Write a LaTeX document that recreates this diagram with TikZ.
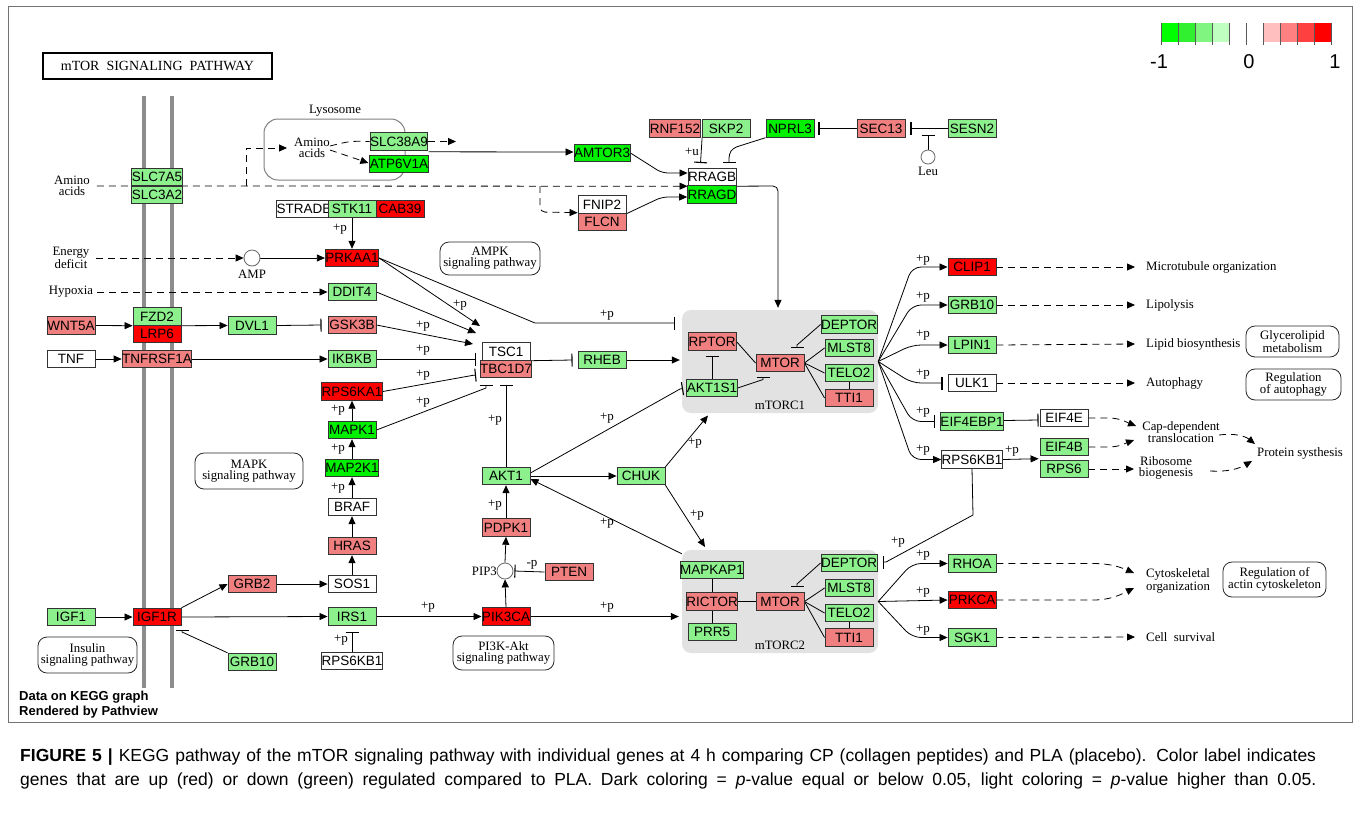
\documentclass[tikz,border=0pt]{standalone}
\usepackage{fontspec}
\setmainfont{Liberation Serif}
\setsansfont{Liberation Sans}
\usetikzlibrary{arrows.meta}
\definecolor{gL}{HTML}{8CF08C}
\definecolor{gD}{HTML}{00F000}
\definecolor{rL}{HTML}{F08080}
\definecolor{rD}{HTML}{FF0000}
\definecolor{cx}{HTML}{E2E2E2}
\pgfdeclarelayer{back}
\pgfdeclarelayer{links}
\pgfsetlayers{back,links,main}
\begin{document}
\begin{tikzpicture}[x=1pt,y=-1pt,
  gene/.style={draw=black!80,line width=0.9pt,minimum width=48pt,minimum height=17.5pt,inner sep=0pt,font=\sffamily\fontsize{13.5}{13.5}\selectfont},
  gl/.style={gene,fill=gL}, gd/.style={gene,fill=gD}, rl/.style={gene,fill=rL}, rd/.style={gene,fill=rD}, wh/.style={gene,fill=white},
  lbl/.style={font=\fontsize{12.8}{10.8}\selectfont,inner sep=0pt,align=center},
  pp/.style={font=\fontsize{13}{13}\selectfont,inner sep=0pt},
  pw/.style={draw=black!85,rounded corners=9pt,line width=0.8pt,align=center,font=\fontsize{12.8}{10.8}\selectfont,inner sep=0pt},
  ln/.style={line width=0.8pt},
  act/.style={ln,-{Triangle[length=8pt,width=7pt]}},
  inh/.style={ln,-{Bar[width=13pt,line width=1.1pt]}},
  dsh/.style={ln,dash pattern=on 7pt off 5pt},
  cplx/.style={fill=cx,rounded corners=9pt,inner sep=0pt},
  mol/.style={circle,draw=black!60,fill=white,line width=0.8pt,inner sep=0pt,minimum size=16pt},
  mem/.style={line width=4pt,draw=black!45},
  capt/.style={font=\sffamily\fontsize{17.5}{17.5}\selectfont,anchor=west,inner sep=0pt}]
\useasboundingbox (0,0) rectangle (1356,812);
\begin{pgfonlayer}{back}
\fill[white] (0,0) rectangle (1356,812);
\draw[mem] (144,96) -- (144,688);
\draw[mem] (172,96) -- (172,688);
\end{pgfonlayer}
% frame and title
\draw[black!55,line width=1pt] (8,6) rectangle (1352,722);
\node[draw,line width=1.3pt,minimum width=229pt,minimum height=26pt,inner sep=0pt,font=\fontsize{14}{14}\selectfont] (title) at (157.5,66) {mTOR\ \ SIGNALING\ \ PATHWAY};
% legend
\fill[fill={rgb,255:red,0;green,255;blue,0}] (1161,23) rectangle (1178,42);
\fill[fill={rgb,255:red,48;green,240;blue,48}] (1178,23) rectangle (1195,42);
\fill[fill={rgb,255:red,128;green,245;blue,128}] (1195,23) rectangle (1212,42);
\fill[fill={rgb,255:red,191;green,255;blue,191}] (1212,23) rectangle (1229,42);
\fill[fill={rgb,255:red,255;green,191;blue,191}] (1263,23) rectangle (1280,42);
\fill[fill={rgb,255:red,255;green,128;blue,128}] (1280,23) rectangle (1297,42);
\fill[fill={rgb,255:red,255;green,64;blue,64}] (1297,23) rectangle (1314,42);
\fill[fill={rgb,255:red,255;green,0;blue,0}] (1314,23) rectangle (1331,42);
\foreach \x in {1161,1178,1195,1212,1229,1246,1263,1280,1297,1314,1331} \draw[black!65,line width=0.9pt] (\x,23) -- (\x,45);
\node[font=\sffamily\fontsize{20}{20}\selectfont,inner sep=0pt] (lgm) at (1159,62) {-1};
\node[font=\sffamily\fontsize{20}{20}\selectfont,inner sep=0pt] (lg0) at (1249,62) {0};
\node[font=\sffamily\fontsize{20}{20}\selectfont,inner sep=0pt] (lg1) at (1335,62) {1};
% complexes
\begin{pgfonlayer}{back}
\node[cplx,minimum width=196pt,minimum height=103pt] (mtorc1) at (780,361.5) {};
\node[cplx,minimum width=196pt,minimum height=103pt] (mtorc2) at (780,601.5) {};
\end{pgfonlayer}
\node[lbl] (mtorc1lbl) at (780,405) {mTORC1};
\node[lbl] (mtorc2lbl) at (780,645) {mTORC2};
% lysosome
\node[draw=black!50,rounded corners=14pt,minimum width=141pt,minimum height=61pt,line width=1pt] (lyso) at (334.5,149.5) {};
\node[lbl] (lysolbl) at (335,111) {Lysosome};
\node[lbl] (aa2) at (312,148) {Amino\\acids};
% left text
\node[lbl] (aa1) at (72,186) {Amino\\acids};
\node[lbl] (energy) at (71,258) {Energy\\deficit};
\node[lbl] (hypoxia) at (71,292) {Hypoxia};
% genes
\node[gl] (slc7a5) at (157,177) {SLC7A5};
\node[gl] (slc3a2) at (157,195) {SLC3A2};
\node[wh] (stradb) at (304,209) {STRADB};
\node[gl] (stk11) at (352,209) {STK11};
\node[rd] (cab39) at (400,209) {CAB39};
\node[rd] (prkaa1) at (352,258) {PRKAA1};
\node[gl] (ddit4) at (352,292) {DDIT4};
\node[rl] (gsk3b) at (352,325) {GSK3B};
\node[gl] (ikbkb) at (352,359) {IKBKB};
\node[rd] (rps6ka1) at (352,391.5) {RPS6KA1};
\node[gd] (mapk1) at (352,430) {MAPK1};
\node[gd] (map2k1) at (352,468) {MAP2K1};
\node[wh] (braf) at (352,507) {BRAF};
\node[rl] (hras) at (352,546) {HRAS};
\node[wh] (sos1) at (352,584) {SOS1};
\node[gl] (irs1) at (352,616.5) {IRS1};
\node[wh] (rps6kb1b) at (352,661) {RPS6KB1};
\node[rl] (wnt5a) at (71,325.5) {WNT5A};
\node[gl] (fzd2) at (157,316.5) {FZD2};
\node[rd] (lrp6) at (157,334) {LRP6};
\node[gl] (dvl1) at (252,325.5) {DVL1};
\node[wh] (tnf) at (71,359) {TNF};
\node[rl] (tnfrsf1a) at (157,359) {TNFRSF1A};
\node[gl] (igf1) at (71,617) {IGF1};
\node[rd] (igf1r) at (157,617) {IGF1R};
\node[rl] (grb2) at (252,584) {GRB2};
\node[gl] (grb10b) at (252,662) {GRB10};
\node[gl] (slc38a9) at (399,141.5) {SLC38A9};
\node[gd] (atp6v1a) at (399,164) {ATP6V1A};
\node[gd] (amtor3) at (602,153) {AMTOR3};
\node[wh] (fnip2) at (602,204.5) {FNIP2};
\node[rl] (flcn) at (602,222) {FLCN};
\node[rl] (rnf152) at (675,128.5) {RNF152};
\node[gl] (skp2) at (726,128.5) {SKP2};
\node[gd] (nprl3) at (790,128.5) {NPRL3};
\node[rl] (sec13) at (881,128.5) {SEC13};
\node[gl] (sesn2) at (972,128.5) {SESN2};
\node[wh] (rragb) at (712,177) {RRAGB};
\node[gd] (rragd) at (712,194.5) {RRAGD};
\node[wh] (tsc1) at (506,351.5) {TSC1};
\node[rl] (tbc1d7) at (506,369) {TBC1D7};
\node[gl] (rheb) at (602,360) {RHEB};
\node[gl] (akt1) at (506,476) {AKT1};
\node[gl] (chuk) at (641,476) {CHUK};
\node[rl] (pdpk1) at (506,527.5) {PDPK1};
\node[rd] (pik3ca) at (506,616.5) {PIK3CA};
\node[rl] (pten) at (569,572) {PTEN};
% mTORC1
\node[rl] (rptor) at (712,341.5) {RPTOR};
\node[gl] (akt1s1) at (712,388) {AKT1S1};
\node[rl] (mtor1) at (780,363) {MTOR};
\node[gl] (deptor1) at (849,324.5) {DEPTOR};
\node[gl] (mlst81) at (849,348) {MLST8};
\node[gl] (telo21) at (849,373) {TELO2};
\node[rl] (tti11) at (849,398) {TTI1};
% mTORC2
\node[gl] (mapkap1) at (712,570) {MAPKAP1};
\node[rl] (rictor) at (712,601.5) {RICTOR};
\node[gl] (prr5) at (712,632) {PRR5};
\node[rl] (mtor2) at (780,601.5) {MTOR};
\node[gl] (deptor2) at (849,563) {DEPTOR};
\node[gl] (mlst82) at (849,588) {MLST8};
\node[gl] (telo22) at (849,613) {TELO2};
\node[rl] (tti12) at (849,637.5) {TTI1};
% outputs
\node[rd] (clip1) at (972,267) {CLIP1};
\node[gl] (grb10) at (972,305) {GRB10};
\node[gl] (lpin1) at (972,345) {LPIN1};
\node[wh] (ulk1) at (972,383) {ULK1};
\node[gl] (eif4ebp1) at (972,421.5) {EIF4EBP1};
\node[wh] (rps6kb1) at (972,459.5) {RPS6KB1};
\node[wh] (eif4e) at (1064,418) {EIF4E};
\node[gl] (eif4b) at (1064,447) {EIF4B};
\node[gl] (rps6) at (1064,469) {RPS6};
\node[gl] (rhoa) at (972,563.5) {RHOA};
\node[rd] (prkca) at (972,600) {PRKCA};
\node[gl] (sgk1) at (972,637.5) {SGK1};
% compounds
\node[mol] (amp) at (252,258) {};
\node[lbl] (amplbl) at (252,274) {AMP};
\node[mol,minimum size=14pt] (leu) at (928,157) {};
\node[lbl] (leulbl) at (928,171) {Leu};
\node[mol] (pip3) at (505,571) {};
\node[lbl,anchor=east] (pip3lbl) at (497,571) {PIP3};
% pathway boxes
\node[pw,minimum width=100pt,minimum height=33pt] (ampk) at (490,258.5) {AMPK\\signaling pathway};
\node[pw,minimum width=108pt,minimum height=36pt] (mapk) at (249,471) {MAPK\\signaling pathway};
\node[pw,minimum width=93pt,minimum height=31pt] (glyc) at (1292.5,341.5) {Glycerolipid\\metabolism};
\node[pw,minimum width=95pt,minimum height=31pt] (regaut) at (1293.5,384.5) {Regulation\\of autophagy};
\node[pw,minimum width=103pt,minimum height=35pt] (regact) at (1274.5,579.5) {Regulation of\\actin cytoskeleton};
\node[pw,minimum width=101pt,minimum height=34pt] (pi3k) at (503.5,653) {PI3K-Akt\\signaling pathway};
\node[pw,minimum width=99pt,minimum height=36pt] (insulin) at (87.5,655) {Insulin\\signaling pathway};
% right texts
\node[lbl,anchor=west] (t1) at (1146,267) {Microtubule organization};
\node[lbl,anchor=west] (t2) at (1146,305) {Lipolysis};
\node[lbl,anchor=west] (t3) at (1146,344) {Lipid biosynthesis};
\node[lbl,anchor=west] (t4) at (1146,383) {Autophagy};
\node[lbl] (t5) at (1181,432) {Cap-dependent\\translocation};
\node[lbl] (t6) at (1166,468) {Ribosome\\biogenesis};
\node[lbl] (t7) at (1300,453) {Protein systhesis};
\node[lbl] (t8) at (1178,581) {Cytoskeletal\\organization};
\node[lbl,anchor=west] (t9) at (1146,637) {Cell\ \ survival};
% +p labels
\node[pp] (p1) at (340,229) {+p};
\node[pp] (p2) at (338,410) {+p};
\node[pp] (p3) at (338,449) {+p};
\node[pp] (p4) at (338,488) {+p};
\node[pp] (p5) at (341,640) {+p};
\node[pp] (p6) at (460,305) {+p};
\node[pp] (p7) at (423,326) {+p};
\node[pp] (p8) at (423,350) {+p};
\node[pp] (p9) at (423,375) {+p};
\node[pp] (p10) at (423,402) {+p};
\node[pp] (p11) at (495,420) {+p};
\node[pp] (p12) at (607,315) {+p};
\node[pp] (p13) at (607,418) {+p};
\node[pp] (p14) at (695,443) {+p};
\node[pp] (p15) at (697,515) {+p};
\node[pp] (p16) at (607,523) {+p};
\node[pp] (p17) at (495,505) {+p};
\node[pp] (p18) at (428,607) {+p};
\node[pp] (p19) at (607,607) {+p};
\node[pp] (m1) at (532,565) {-p};
\node[pp] (p20) at (923,260) {+p};
\node[pp] (p21) at (923,297) {+p};
\node[pp] (p22) at (923,335) {+p};
\node[pp] (p23) at (923,374) {+p};
\node[pp] (p24) at (923,412) {+p};
\node[pp] (p25) at (923,450) {+p};
\node[pp] (p26) at (1012,451) {+p};
\node[pp] (p27) at (898,542) {+p};
\node[pp] (p28) at (923,555) {+p};
\node[pp] (p29) at (923,592) {+p};
\node[pp] (p30) at (923,630) {+p};
\node[pp] (u1) at (692,152) {+u};
% data note
\node[font=\sffamily\bfseries\fontsize{13}{15}\selectfont,anchor=north west,align=left,inner sep=0pt] (note) at (19,691) {Data on KEGG graph\\Rendered by Pathview};
% caption
\node[capt] (cap1) at (20,757) {\makebox[1296pt][s]{\textbf{FIGURE 5 |} KEGG pathway of the mTOR signaling pathway with individual genes at 4 h comparing CP (collagen peptides) and PLA (placebo). Color label indicates}};
\node[capt] (cap2) at (20,781) {\makebox[1296pt][s]{genes that are up (red) or down (green) regulated compared to PLA. Dark coloring = \textit{p}-value equal or below 0.05, light coloring = \textit{p}-value higher than 0.05.}};
% named free ends
\coordinate (j1) at (246,186);
\coordinate (j2) at (540,186);
\coordinate (s9out) at (456,141.5);
\coordinate (uB1) at (700.5,163);
\coordinate (uB2) at (729,163);
\coordinate (leuB) at (928,135);
\coordinate (tA) at (480,326);
\coordinate (tB) at (476,333);
\coordinate (tC) at (473,344);
\coordinate (tD) at (476,359);
\coordinate (tE) at (476,375);
\coordinate (tF) at (486,385);
\coordinate (tG) at (506,385);
\coordinate (m1B) at (675,323);
\coordinate (aB) at (683,388.5);
\coordinate (c1in) at (708,415.5);
\coordinate (c2in) at (705,547);
\coordinate (igfB) at (182,630);
\coordinate (d2B) at (883,562);
\coordinate (t5in1) at (1136,426);
\coordinate (t5in2) at (1134,440);
\coordinate (t6in) at (1134,469);
\coordinate (t5out) at (1219,435);
\coordinate (t6out) at (1210,471);
\coordinate (t7in1) at (1255,444);
\coordinate (t7in2) at (1252,461);
\coordinate (t8in1) at (1134,573);
\coordinate (t8in2) at (1134,588);
\begin{pgfonlayer}{links}
% amino acids
\draw[dsh,act] ([xshift=7pt]aa1.east) -- (rragb.south west);
\draw[dsh,act] (j1) -- (246,148) -- ([xshift=-7pt]aa2.west);
\draw[dsh,act,rounded corners=5pt] (j2) -- (540,212) -- ([yshift=1pt]fnip2.south west);
\draw[dsh] ([yshift=2pt]aa2.east) .. controls (350,141) .. (slc38a9.west);
\draw[dsh,act] ([yshift=-2pt]aa2.east) -- ([xshift=-1pt,yshift=1pt]atp6v1a.west);
\draw[dsh,act] (slc38a9.east) -- (s9out);
\draw[act] ([yshift=3pt]atp6v1a.north east) -- ([yshift=1pt]amtor3.west);
\draw[act,rounded corners=6pt] (amtor3.east) -- (662,173) -- ([yshift=4pt]rragb.west);
\draw[act,rounded corners=6pt] (fnip2.south east) -- (662,197) -- ([yshift=-2.5pt]rragd.west);
\draw[inh] ([xshift=1.5pt]rnf152.south east) -- (uB1);
\draw[inh,rounded corners=4pt] (nprl3.south west) -- (733,148) -- (729,154) -- (uB2);
\draw[inh] (sec13.west) -- ([xshift=4pt]nprl3.east);
\draw[inh] (sesn2.west) -- ([xshift=5pt]sec13.east);
\draw[inh] (leu.north) -- (leuB);
\draw[act,rounded corners=5pt] (rragb.south east) -- (778,186) -- ([xshift=-2pt,yshift=2pt]mtorc1.north);
% AMPK etc
\draw[act] (stk11.south) -- (prkaa1.north);
\draw[dsh,act] ([xshift=6pt]energy.east) -- (amp.west);
\draw[act] (amp.east) -- (prkaa1.west);
\draw[dsh,act] ([xshift=4pt]hypoxia.east) -- (ddit4.west);
\draw[act] (wnt5a.east) -- (fzd2.south west);
\draw[act] (fzd2.south east) -- (dvl1.west);
\draw[inh] (dvl1.east) -- ([xshift=-6pt]gsk3b.west);
\draw[act] (tnf.east) -- (tnfrsf1a.west);
\draw[act] (tnfrsf1a.east) -- (ikbkb.west);
\draw[act] (igf1.east) -- (igf1r.west);
\draw[act] (igf1r.east) -- (irs1.west);
\draw[act] (igf1r.north east) -- (grb2.west);
\draw[act] (grb2.east) -- (sos1.west);
\draw[inh] (grb10b.north west) -- (182,632) -- (igfB);
\draw[act] (sos1.north) -- (hras.south);
\draw[act] (hras.north) -- (braf.south);
\draw[act] (braf.north) -- (map2k1.south);
\draw[act] (map2k1.north) -- (mapk1.south);
\draw[act] (mapk1.north) -- (rps6ka1.south);
\draw[inh] (rps6kb1b.north) -- ([yshift=-6pt]irs1.south);
% to TSC
\draw[act] (prkaa1.east) -- (tA);
\draw[act] (ddit4.east) -- (tB);
\draw[act] (gsk3b.east) -- (tC);
\draw[inh] (ikbkb.east) -- (tD);
\draw[inh] (rps6ka1.east) -- (473,375.3) -- (tE);
\draw[inh] (mapk1.east) -- (486,388) -- (tF);
\draw[inh] (akt1.north) -- (tG);
\draw[inh] (prkaa1.east) -- (535,323) -- (m1B);
\draw[inh] (tsc1.south east) -- ([xshift=-5pt]rheb.west);
\draw[act] (rheb.east) -- ([xshift=-2pt,yshift=1.5pt]mtorc1.west);
\draw[inh] ([yshift=3pt]akt1.east) -- (680,389) -- (aB);
\draw[act] (akt1.east) -- (chuk.west);
\draw[act] (chuk.north east) -- (c1in);
\draw[act] (chuk.south east) -- (c2in);
\draw[act] ([yshift=-4pt]mtorc2.north west) -- ([yshift=-3pt]akt1.east);
\draw[act] (pdpk1.north) -- (akt1.south);
\draw[act] (pik3ca.north) -- (pip3.south);
\draw[act] (pip3.north) -- (pdpk1.south);
\draw[inh] (pten.west) -- ([xshift=1pt]pip3.east);
\draw[act] (irs1.east) -- (pik3ca.west);
\draw[act] (pik3ca.east) -- ([xshift=-3pt,yshift=-15pt]mtorc2.west);
% mTORC1 internal
\draw[ln] (rptor.east) -- (mtor1.west);
\draw[inh] (akt1s1.north) -- ([yshift=-5pt]rptor.south);
\draw[inh] (akt1s1.east) -- (763,379.5) -- (763,377);
\draw[inh] (deptor1.west) -- (797,345) -- (797,348);
\draw[ln] (mtor1.east) -- (mlst81.west);
\draw[ln] (mtor1.east) -- (telo21.west);
\draw[ln] (mtor1.east) -- (tti11.west);
\draw[ln] (telo21.south) -- (tti11.north);
% mTORC2 internal
\draw[ln] (mapkap1.south) -- (rictor.north);
\draw[ln] (rictor.south) -- (prr5.north);
\draw[ln] (rictor.east) -- (mtor2.west);
\draw[inh] (deptor2.west) -- (797,584) -- (797,587);
\draw[ln] (mtor2.east) -- (mlst82.west);
\draw[ln] (mtor2.east) -- (telo22.west);
\draw[ln] (mtor2.east) -- (tti12.west);
\draw[ln] (telo22.south) -- (tti12.north);
% mTORC1 fan
\draw[act,rounded corners=9pt] (mtorc1.east) -- (912,267) -- (clip1.west);
\draw[act,rounded corners=9pt] (mtorc1.east) -- (912,305) -- (grb10.west);
\draw[act,rounded corners=9pt] (mtorc1.east) -- (912,345) -- (lpin1.west);
\draw[inh,rounded corners=9pt] (mtorc1.east) -- (912,383) -- ([xshift=-5pt]ulk1.west);
\draw[inh,rounded corners=9pt] (mtorc1.east) -- (912,421.5) -- ([xshift=-5pt]eif4ebp1.west);
\draw[act,rounded corners=9pt] (mtorc1.east) -- (912,459.5) -- (rps6kb1.west);
% mTORC2 fan
\draw[act,rounded corners=9pt] (mtorc2.east) -- (912,563.5) -- (rhoa.west);
\draw[act] (mtorc2.east) -- (prkca.west);
\draw[act,rounded corners=9pt] (mtorc2.east) -- (912,637.5) -- (sgk1.west);
\draw[inh] (rps6kb1.south) -- (973,515) -- (886,562) -- (d2B);
% translation
\draw[inh] ([yshift=1pt]eif4ebp1.east) -- ([xshift=-1pt,yshift=-2pt]eif4e.west);
\draw[act] (rps6kb1.east) -- ([xshift=-1pt,yshift=-2.5pt]eif4b.south west);
% dashed outputs
\draw[dsh,act] (clip1.east) -- ([xshift=-11pt]t1.west);
\draw[dsh,act] (grb10.east) -- ([xshift=-11pt]t2.west);
\draw[dsh,act] (lpin1.east) -- ([xshift=-11pt]t3.west);
\draw[dsh,act] (ulk1.east) -- ([xshift=-11pt]t4.west);
\draw[dsh,act] (eif4e.east) -- (1108,418) .. controls (1120,418) and (1126,422) .. (t5in1);
\draw[dsh,act] (eif4b.east) -- (1108,447) .. controls (1120,447) and (1126,443) .. (t5in2);
\draw[dsh,act] (rps6.east) -- (t6in);
\draw[dsh,act] (t5out) .. controls (1235,433) and (1245,436) .. (t7in1);
\draw[dsh,act] (t6out) .. controls (1230,472) and (1240,468) .. (t7in2);
\draw[dsh,act] (rhoa.east) -- (1093,563.5) .. controls (1110,563.5) and (1120,567) .. (t8in1);
\draw[dsh,act] (prkca.east) -- (1093,600) .. controls (1110,600) and (1120,595) .. (t8in2);
\draw[dsh,act] (sgk1.east) -- ([xshift=-11pt]t9.west);
\end{pgfonlayer}
\end{tikzpicture}
\end{document}
